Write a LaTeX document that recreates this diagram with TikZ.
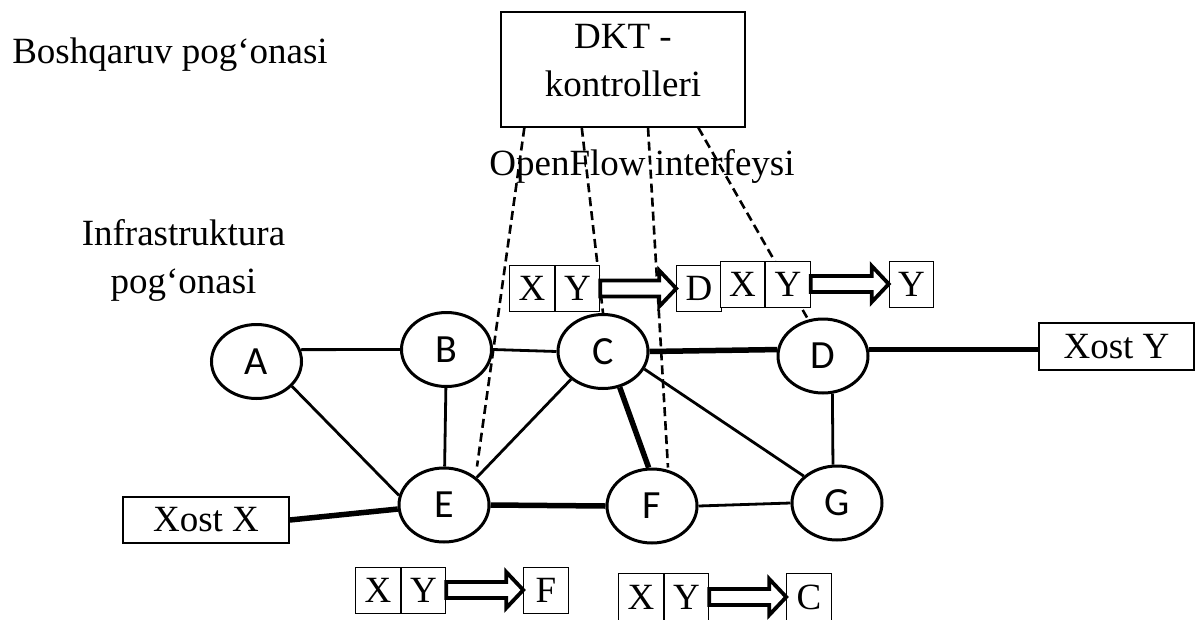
\documentclass[tikz,border=0pt]{standalone}
\usepackage{fontspec}
\setmainfont{Liberation Serif}
\newfontfamily\switchfont{Carlito}
\usetikzlibrary{shapes,positioning,calc}
\newcommand{\bigtext}{\fontsize{37}{48}\selectfont}
\newcommand{\flowarrow}[2]{%
\draw[line width=3.8pt,fill=white,line join=miter] ($(#1.east)+(0,8)$) -- ($(#2.west)+(-17,8)$) -- ($(#2.west)+(-17,18)$) -- (#2.west)
  -- ($(#2.west)+(-17,-18)$) -- ($(#2.west)+(-17,-8)$) -- ($(#1.east)+(0,-8)$) -- cycle;}

\begin{document}
\begin{tikzpicture}[x=1pt,y=-1pt,
  switchnode/.style={ellipse,draw,line width=3pt,fill=white,minimum width=90pt,minimum height=74pt,inner sep=0pt,font=\switchfont\fontsize{40}{48}\selectfont},
  hostbox/.style={draw,line width=1.4pt,fill=white,inner sep=0pt,font=\bigtext},
  flowcell/.style={draw,line width=1pt,fill=white,minimum width=44.5pt,minimum height=46pt,inner sep=0pt,font=\bigtext},
  plainlink/.style={line width=2.8pt},
  heavylink/.style={line width=5.5pt},
  oflink/.style={line width=2.6pt,dash pattern=on 9pt off 5pt}]
\useasboundingbox (0,0) rectangle (1195,619);
%
\node[font=\bigtext,anchor=base] (ctrllevel) at (170,63) {Boshqaruv pog‘onasi};
\node[font=\bigtext,align=center] (infralevel) at (183.5,260.5) {Infrastruktura\\pog‘onasi};
\node[hostbox,minimum width=244pt,minimum height=115pt] (dkt) at (623,69.5) {};
\node[font=\bigtext,align=center,yshift=9pt] (dkttext) at (dkt) {DKT -\\kontrolleri};
\node[font=\bigtext,anchor=base] (ofiface) at (642,175) {OpenFlow interfeysi};
%
\node[switchnode] (A) at (256.5,361.5) {A};
\node[switchnode] (B) at (446.5,349.5) {B};
\node[switchnode] (C) at (603,351.5) {C};
\node[switchnode] (D) at (823,356) {D};
\node[switchnode] (E) at (444,505) {E};
\node[switchnode] (F) at (652,506) {F};
\node[switchnode] (G) at (837,503) {G};
\node[hostbox,minimum width=166pt,minimum height=46pt] (xostx) at (206,520) {Xost X};
\node[hostbox,minimum width=155pt,minimum height=47pt] (xosty) at (1116.5,346.5) {Xost Y};
%
\draw[plainlink] (A.15) -- (B.west);
\draw[plainlink] (B.east) -- (C.west);
\draw[heavylink] (C.east) -- (D.172);
\draw[heavylink] (D.8) -- (D.8 -| xosty.west);
\draw[plainlink] (A.-35) -- (E.168);
\draw[plainlink] (B) -- (E);
\draw[plainlink] (E.40) -- (C.221);
\draw[heavylink] (C.-65) -- (F.95);
\draw[plainlink] (C.-23) -- (G.141);
\draw[plainlink] (D.-76) -- (G.96);
\draw[heavylink] (E.east) -- (F.west);
\draw[plainlink] (F.east) -- (G.west);
\draw[heavylink] (xostx.east) -- (E.185);
%
\draw[oflink] ($(dkt.south west)!.098!(dkt.south east)$) -- ($(E.north)+(33,0)$);
\draw[oflink] ($(dkt.south west)!.332!(dkt.south east)$) -- (C.north);
\draw[oflink] ($(dkt.south west)!.602!(dkt.south east)$) -- ($(F.north)+(16,0)$);
\draw[oflink] ($(dkt.south west)!.807!(dkt.south east)$) -- ($(D.north)+(-16,0)$);
%
\node[flowcell] (tax) at (532,288.5) {X};
\node[flowcell,right=0pt of tax] (tay) {Y};
\node[flowcell,right=76pt of tay] (tad) {D};
\flowarrow{tay}{tad}
\node[flowcell] (tbx) at (742.5,284) {X};
\node[flowcell,right=0pt of tbx] (tby) {Y};
\node[flowcell,right=78pt of tby] (tbd) {Y};
\flowarrow{tby}{tbd}
\node[flowcell] (tcx) at (378,590) {X};
\node[flowcell,right=0pt of tcx] (tcy) {Y};
\node[flowcell,right=77pt of tcy] (tcd) {F};
\flowarrow{tcy}{tcd}
\node[flowcell,minimum height=48pt] (tdx) at (641,597) {X};
\node[flowcell,minimum height=48pt,right=0pt of tdx] (tdy) {Y};
\node[flowcell,minimum height=48pt,right=77pt of tdy] (tdd) {C};
\flowarrow{tdy}{tdd}
%
\end{tikzpicture}
\end{document}
